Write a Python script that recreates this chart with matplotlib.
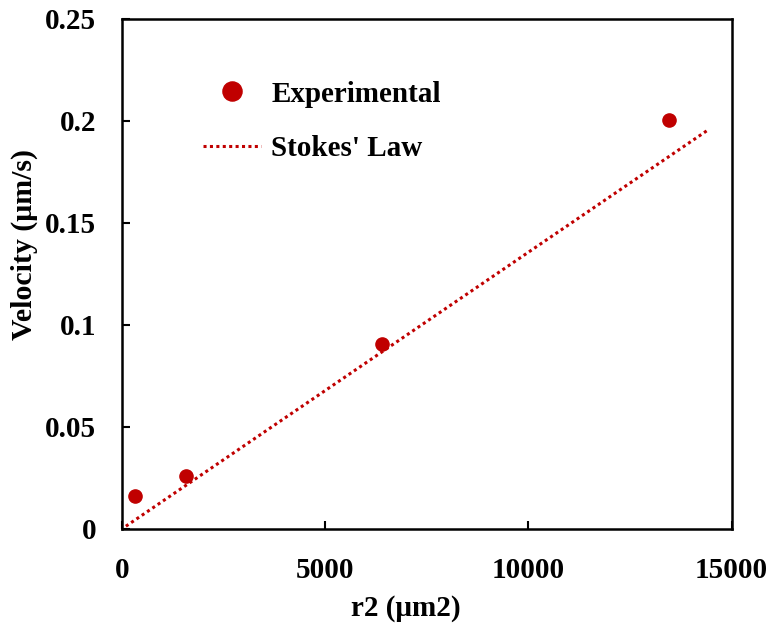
import matplotlib
matplotlib.use("Agg")
import matplotlib.pyplot as plt

r2_exp = [320, 1590, 6390, 13470]
vel_exp = [0.0163, 0.0262, 0.0905, 0.2005]
r2_stokes = [100, 14450]
vel_stokes = [0.00136, 0.1960]
x_ticks = [0, 5000, 10000, 15000]
y_ticks = [0, 0.05, 0.1, 0.15, 0.2, 0.25]
y_tick_labels = ["0", "0.05", "0.1", "0.15", "0.2", "0.25"]

red = "#C00000"
plt.rcParams['font.family'] = ['Liberation Serif', 'DejaVu Serif']
plt.rcParams['font.weight'] = 'bold'
fs = 21

W, H = 771, 629
fig = plt.figure(figsize=(W / 100, H / 100), dpi=100)
ax = fig.add_axes([0.158, 0.159, 0.791, 0.811])

ax.plot(r2_exp, vel_exp, 'o', color=red, markersize=9.5, label='Experimental', zorder=3)
ax.plot(r2_stokes, vel_stokes, color=red, linewidth=2.2, linestyle=(0, (1, 1.1)),
        dash_capstyle='butt', label="Stokes' Law")

ax.set_xlim(0, 15000)
ax.set_ylim(0, 0.25)
ax.set_xticks(x_ticks)
ax.set_xticklabels([str(t) for t in x_ticks])
ax.set_yticks(y_ticks)
ax.set_yticklabels(y_tick_labels)

for s in ax.spines.values():
    s.set_linewidth(1.8)
ax.tick_params(direction='in', length=6, width=1.5, labelsize=fs)
ax.tick_params(axis='x', pad=20)
ax.tick_params(axis='y', pad=18.5)
for lab in ax.get_xticklabels() + ax.get_yticklabels():
    lab.set_fontweight('bold')

fig.text(406 / W, 1 - 608 / H, 'r2 (μm2)', fontsize=fs, fontweight='bold',
         ha='center', va='center')
fig.text(24 / W, 1 - 245 / H, 'Velocity (μm/s)', fontsize=21.5, fontweight='bold',
         ha='center', va='center', rotation=90)

leg = ax.legend(loc='upper left', bbox_to_anchor=(0.133, 0.879), frameon=False,
                fontsize=fs, markerscale=1.45, handlelength=2.0, handletextpad=0.35,
                labelspacing=0.95, borderpad=0, borderaxespad=0)
for t in leg.get_texts():
    t.set_fontweight('bold')

fig.savefig('out.png', dpi=100)
